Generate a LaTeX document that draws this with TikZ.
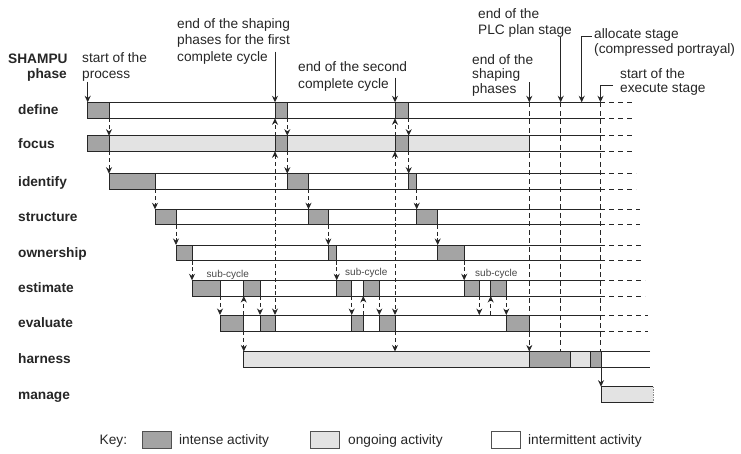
\documentclass[tikz,border=0pt]{standalone}
\usepackage{fontspec}
\setmainfont{Liberation Sans}
\usetikzlibrary{arrows.meta}

\definecolor{ink}{HTML}{262626}
\definecolor{intense}{HTML}{A4A4A4}
\definecolor{ongoing}{HTML}{E3E3E3}

% row tops and bottoms (y grows downwards)
\def\yDT{102.3}\def\yDB{118.3}
\def\yFT{135.7}\def\yFB{151.3}
\def\yIT{173.7}\def\yIB{189.3}
\def\yST{209.3}\def\ySB{224.8}
\def\yOT{245}\def\yOB{260.5}
\def\yET{280.3}\def\yEB{296}
\def\yVT{315}\def\yVB{331}
\def\yHT{351.5}\def\yHB{367}
\def\yMT{386.7}\def\yMB{402.3}

\tikzset{
  hi/.style={draw=ink, line width=1pt, fill=intense},
  lo/.style={draw=ink, line width=1pt, fill=ongoing},
  rowline/.style={draw=ink, line width=1pt},
  ext/.style={draw=ink, line width=1pt, dash pattern=on 5pt off 4pt},
  tipdown/.style={-{Stealth[length=6.5pt,width=6pt]}},
  tipboth/.style={{Stealth[length=6.5pt,width=6pt]}-{Stealth[length=6.5pt,width=6pt]}},
  flow/.style={draw=ink, line width=0.9pt, dash pattern=on 4pt off 2.8pt},
  guide/.style={draw=ink, line width=0.9pt, dash pattern=on 5pt off 3.5pt},
  ptr/.style={draw=ink, line width=1pt},
  phase/.style={font=\bfseries\fontsize{13.7}{16}\selectfont, anchor=base west, inner sep=0pt, text=ink},
  note/.style={font=\fontsize{13.7}{16}\selectfont, anchor=base west, inner sep=0pt, text=ink},
  subnote/.style={font=\fontsize{10}{12}\selectfont, anchor=base west, inner sep=0pt, text=ink!85},
  keytext/.style={font=\fontsize{13.7}{16}\selectfont, anchor=base west, inner sep=0pt, text=ink},
  keybox/.style={draw=ink!80, line width=1pt},
}

% open-ended row frame: start x, top, bottom, end of dashed tail
\newcommand\rowframe[4]{%
  \draw[rowline] (600,#2) -- (#1,#2) -- (#1,#3) -- (600,#3);
  \draw[ext] (600,#2) -- (#4,#2) (600,#3) -- (#4,#3);
}
% activity blocks: left x, right x, top, bottom
\newcommand\hiblock[4]{\path[hi] (#1,#3) rectangle (#2,#4);}
\newcommand\loblock[4]{\path[lo] (#1,#3) rectangle (#2,#4);}

\begin{document}
\begin{tikzpicture}[x=1pt,y=-1pt]
\useasboundingbox (0,0) rectangle (741,453);

% ---------- phase rows ----------
% define
\rowframe{87.7}{\yDT}{\yDB}{633}
\hiblock{87.7}{109}{\yDT}{\yDB}
\hiblock{275}{287.3}{\yDT}{\yDB}
\hiblock{395}{408.7}{\yDT}{\yDB}
% focus
\loblock{109}{529.3}{\yFT}{\yFB}
\rowframe{87.7}{\yFT}{\yFB}{633}
\hiblock{87.7}{109}{\yFT}{\yFB}
\hiblock{275}{287.3}{\yFT}{\yFB}
\hiblock{395}{408.7}{\yFT}{\yFB}
% identify
\rowframe{109}{\yIT}{\yIB}{636}
\hiblock{109}{155}{\yIT}{\yIB}
\hiblock{287.3}{308.5}{\yIT}{\yIB}
\hiblock{408.7}{416.7}{\yIT}{\yIB}
% structure
\rowframe{155}{\yST}{\ySB}{640}
\hiblock{155}{176}{\yST}{\ySB}
\hiblock{308.5}{328.3}{\yST}{\ySB}
\hiblock{416.7}{437.7}{\yST}{\ySB}
% ownership
\rowframe{176}{\yOT}{\yOB}{643}
\hiblock{176}{192}{\yOT}{\yOB}
\hiblock{328.3}{336.7}{\yOT}{\yOB}
\hiblock{437.7}{464.2}{\yOT}{\yOB}
% estimate
\rowframe{192}{\yET}{\yEB}{645}
\hiblock{192}{220}{\yET}{\yEB}
\hiblock{243.8}{260}{\yET}{\yEB}
\hiblock{336.7}{351.7}{\yET}{\yEB}
\hiblock{363.3}{379.3}{\yET}{\yEB}
\hiblock{464.2}{479.3}{\yET}{\yEB}
\hiblock{490.7}{506.3}{\yET}{\yEB}
% evaluate
\rowframe{220}{\yVT}{\yVB}{648}
\hiblock{220}{243.8}{\yVT}{\yVB}
\hiblock{260}{275}{\yVT}{\yVB}
\hiblock{351.7}{363.3}{\yVT}{\yVB}
\hiblock{379.3}{395}{\yVT}{\yVB}
\hiblock{506.3}{529.3}{\yVT}{\yVB}
% harness
\draw[rowline] (650,\yHT) -- (243.8,\yHT) -- (243.8,\yHB) -- (650,\yHB);
\loblock{243.8}{529.3}{\yHT}{\yHB}
\hiblock{529.3}{570.5}{\yHT}{\yHB}
\loblock{570.5}{590.5}{\yHT}{\yHB}
\hiblock{590.5}{601}{\yHT}{\yHB}
% manage
\fill[ongoing] (601,\yMT) rectangle (653,\yMB);
\draw[rowline] (653,\yMT) -- (601,\yMT) -- (601,\yMB) -- (653,\yMB);
\draw[draw=ink!55, line width=0.8pt, dash pattern=on 1.5pt off 1pt] (653,\yMT) -- (653,\yMB);

% ---------- stage guides ----------
\draw[guide, tipdown] (529.3,\yDT) -- (529.3,\yHT);
\draw[guide] (560.7,\yDT) -- (560.7,\yHT);
\draw[guide] (600.5,\yDT) -- (600.5,\yHT);
\draw[ptr, tipdown] (601,\yHB) -- (601,\yMT);

% ---------- hand-offs, first cycle ----------
\draw[flow, tipdown] (109,\yDB) -- (109,\yFT);
\draw[flow, tipdown] (109,\yFB) -- (109,\yIT);
\draw[flow, tipdown] (155,\yIB) -- (155,\yST);
\draw[flow, tipdown] (176,\ySB) -- (176,\yOT);
\draw[flow, tipdown] (192,\yOB) -- (192,\yET);
\draw[flow, tipdown] (220,\yEB) -- (220,\yVT);
\draw[flow, tipdown] (243.8,\yVT) -- (243.8,\yEB);
\draw[flow, tipdown] (260,\yEB) -- (260,\yVT);
\draw[flow, tipdown] (243.8,\yVB) -- (243.8,\yHT);
\draw[flow, tipdown] (275,\yFT) -- (275,\yDB);
\draw[flow, tipboth] (275,\yFB) -- (275,\yVT);

% ---------- hand-offs, second cycle ----------
\draw[flow, tipdown] (287.3,\yDB) -- (287.3,\yFT);
\draw[flow, tipdown] (287.3,\yFB) -- (287.3,\yIT);
\draw[flow, tipdown] (308.5,\yIB) -- (308.5,\yST);
\draw[flow, tipdown] (328.3,\ySB) -- (328.3,\yOT);
\draw[flow, tipdown] (336.7,\yOB) -- (336.7,\yET);
\draw[flow, tipdown] (351.7,\yEB) -- (351.7,\yVT);
\draw[flow, tipdown] (363.3,\yVT) -- (363.3,\yEB);
\draw[flow, tipdown] (379.3,\yEB) -- (379.3,\yVT);
\draw[flow, tipdown] (395,\yFT) -- (395,\yDB);
\draw[flow, tipboth] (395,\yFB) -- (395,\yVT);
\draw[flow, tipdown] (395,\yVB) -- (395,\yHT);

% ---------- hand-offs, third cycle ----------
\draw[flow, tipdown] (408.7,\yDB) -- (408.7,\yFT);
\draw[flow, tipdown] (408.7,\yFB) -- (408.7,\yIT);
\draw[flow, tipdown] (416.7,\yIB) -- (416.7,\yST);
\draw[flow, tipdown] (437.7,\ySB) -- (437.7,\yOT);
\draw[flow, tipdown] (464.2,\yOB) -- (464.2,\yET);
\draw[flow, tipdown] (479.3,\yEB) -- (479.3,\yVT);
\draw[flow, tipdown] (490.7,\yVT) -- (490.7,\yEB);
\draw[flow, tipdown] (506.3,\yEB) -- (506.3,\yVT);

% ---------- milestone pointers ----------
\coordinate (m-start) at (87.7,81.7);
\coordinate (m-first) at (275,51.5);
\coordinate (m-second) at (395,77.5);
\coordinate (m-shape) at (529.3,82);
\coordinate (m-plc) at (560.7,37);
\coordinate (m-alloc) at (592,36.7);
\coordinate (m-exec) at (613,85);
\draw[ptr, tipdown] (m-start) -- (87.7,\yDT);
\draw[ptr, tipdown] (m-first) -- (275,\yDT);
\draw[ptr, tipdown] (m-second) -- (395,\yDT);
\draw[ptr, tipdown] (m-shape) -- (529.3,\yDT);
\draw[ptr, tipdown] (m-plc) -- (560.7,\yDT);
\draw[ptr, tipdown] (m-alloc) -- (581.7,36.7) -- (581.7,\yDT);
\draw[ptr, tipdown] (m-exec) -- (600.5,85) -- (600.5,\yDT);

% ---------- headings and annotations ----------
\node[phase] (hd1) at (8,63) {SHAMPU};
\node[phase] (hd2) at (27,78.5) {phase};

\node[note] (t-start1) at (82,62) {start of the};
\node[note] (t-start2) at (82,78.3) {process};

\node[note] (t-first1) at (177,28.3) {end of the shaping};
\node[note] (t-first2) at (177,44.6) {phases for the first};
\node[note] (t-first3) at (177,61) {complete cycle};

\node[note] (t-second1) at (298,71.5) {end of the second};
\node[note] (t-second2) at (298,88) {complete cycle};

\node[note] (t-shape1) at (472,64) {end of the};
\node[note] (t-shape2) at (472,78.8) {shaping};
\node[note] (t-shape3) at (472,93.6) {phases};

\node[note] (t-plc1) at (478,18) {end of the};
\node[note] (t-plc2) at (478,34) {PLC plan stage};

\node[note] (t-alloc1) at (594,38) {allocate stage};
\node[note] (t-alloc2) at (594,53) {(compressed portrayal)};

\node[note] (t-exec1) at (620,78) {start of the};
\node[note] (t-exec2) at (620,92.5) {execute stage};

\node[subnote] (sc1) at (206.5,277) {sub-cycle};
\node[subnote] (sc2) at (345,275.8) {sub-cycle};
\node[subnote] (sc3) at (475,276.5) {sub-cycle};

% ---------- phase names ----------
\node[phase] (p-define) at (18,114.8) {define};
\node[phase] (p-focus) at (18,148) {focus};
\node[phase] (p-identify) at (18,186) {identify};
\node[phase] (p-structure) at (18,221.5) {structure};
\node[phase] (p-ownership) at (18,257.2) {ownership};
\node[phase] (p-estimate) at (18,292.6) {estimate};
\node[phase] (p-evaluate) at (18,327.5) {evaluate};
\node[phase] (p-harness) at (18,363.7) {harness};
\node[phase] (p-manage) at (18,399) {manage};

% ---------- key ----------
\node[keytext] (k-title) at (99.5,444.5) {Key:};
\filldraw[keybox, fill=intense] (142,431.7) rectangle (171.6,448.3);
\node[keytext] (k-intense) at (179,444.5) {intense activity};
\filldraw[keybox, fill=ongoing] (310,431.7) rectangle (339,448.3);
\node[keytext] (k-ongoing) at (348,444.5) {ongoing activity};
\filldraw[keybox, fill=white] (491.5,431.7) rectangle (520,448.3);
\node[keytext] (k-interm) at (528,444.5) {intermittent activity};
\end{tikzpicture}
\end{document}
